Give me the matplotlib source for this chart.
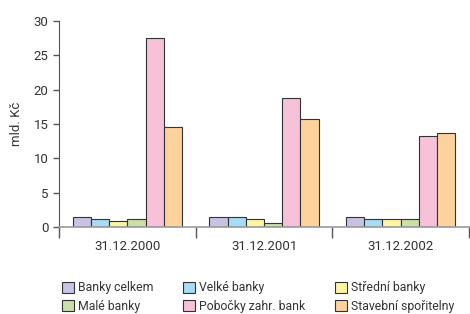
import matplotlib
matplotlib.use('Agg')
import matplotlib.pyplot as plt
import numpy as np

plt.rcParams['font.family'] = ['Roboto', 'DejaVu Sans']

dates = ['31.12.2000', '31.12.2001', '31.12.2002']
series = ['Banky celkem', 'Velké banky', 'Střední banky',
          'Malé banky', 'Pobočky zahr. bank', 'Stavební spořitelny']
banky_celkem = [1.4, 1.4, 1.4]
velke = [1.1, 1.4, 1.1]
stredni = [0.85, 1.1, 1.1]
male = [1.1, 0.55, 1.1]
pobocky = [27.5, 18.8, 13.2]
stavebni = [14.6, 15.7, 13.7]
values = [banky_celkem, velke, stredni, male, pobocky, stavebni]
colors = ['#c6c3e3', '#a6dcf5', '#fdf5a6', '#c9e0a8', '#f7c1da', '#fdd29c']

fig = plt.figure(figsize=(4.7, 3.14), dpi=100)
ax = fig.add_axes([0.1255, 0.277, 0.8725, 0.656])

w = 0.8 / 6
centers = np.arange(len(dates)) + 0.5
handles = []
for i, (name, vals) in enumerate(zip(series, values)):
    x = centers - 0.4 + w * (i + 0.5)
    b = ax.bar(x, vals, width=w, color=colors[i], edgecolor='#333333',
               linewidth=0.8, label=name)
    handles.append(b)

fs = 9.5
ax.set_xlim(0, 3)
ax.set_ylim(0, 30)
ax.set_yticks(range(0, 31, 5))
ax.set_xticks([0, 1, 2, 3])
ax.set_xticklabels([])
ax.set_xticks(centers, minor=True)
ax.set_xticklabels(dates, minor=True)
ax.tick_params(axis='x', which='minor', length=0, pad=9, labelsize=fs, colors='#333333')
ax.tick_params(axis='x', which='major', length=8, width=1, color='#555555')
ax.tick_params(axis='y', length=4, width=1, labelsize=fs, color='#555555', labelcolor='#333333')
for s in ['top', 'right']:
    ax.spines[s].set_visible(False)
ax.spines['left'].set_color('#555555')
ax.spines['bottom'].set_color('#999999')
ax.spines['bottom'].set_linewidth(1.2)
ax.set_ylabel('mld. Kč', fontsize=fs, color='#333333', labelpad=8)

order = [0, 3, 1, 4, 2, 5]
fig.legend([handles[i] for i in order], [series[i] for i in order],
           ncol=3, loc='lower left', bbox_to_anchor=(0.132, 0.003),
           borderaxespad=0, borderpad=0,
           frameon=False, fontsize=8.8, handlelength=1.0, handleheight=1.0,
           handletextpad=0.33, columnspacing=2.4, labelspacing=0.47,
           labelcolor='#333333')

fig.savefig('out.png', dpi=100)
